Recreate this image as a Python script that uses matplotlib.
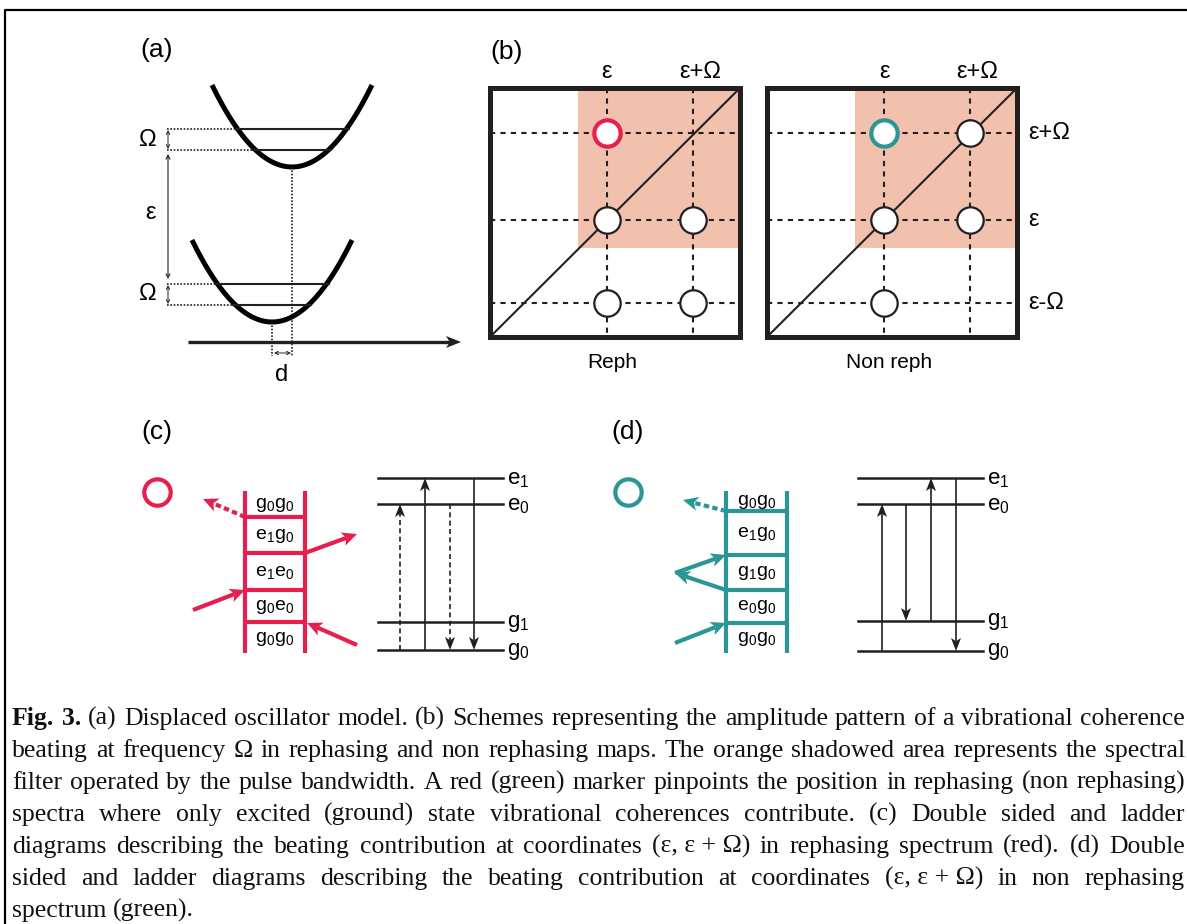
import numpy as np
import matplotlib.pyplot as plt

plt.rcParams['font.family'] = ['Liberation Sans', 'DejaVu Sans']
plt.rcParams['mathtext.fontset'] = 'custom'
plt.rcParams['mathtext.rm'] = 'Liberation Sans'
plt.rcParams['mathtext.it'] = 'Liberation Sans:italic'

INK = '#231f20'
RED = '#e61f4f'
TEAL = '#2a9696'
SHADE = '#f2c1ae'

# ---- (a) displaced oscillator model
well_vertex = [(292, 167), (272, 322)]      # excited, ground
well_halfwidth = 80
well_depth = 82
well_levels = [[129, 150], [284, 305]]

# ---- (b) 2D maps
top_labels = ['ε', 'ε+Ω']
right_labels = ['ε+Ω', 'ε', 'ε-Ω']
map_titles = ['Reph', 'Non reph']
# peaks as (column, row, colour); column 0 = ε, 1 = ε+Ω ; row 0 = ε+Ω, 1 = ε, 2 = ε-Ω
reph_peaks = [(0, 0, RED), (0, 1, 'w'), (1, 1, 'w'), (0, 2, 'w'), (1, 2, 'w')]
nonreph_peaks = [(0, 0, TEAL), (1, 0, 'w'), (0, 1, 'w'), (1, 1, 'w'), (0, 2, 'w')]

# ---- (c), (d) double sided / ladder diagrams
ladder_c = ['g$_0$g$_0$', 'e$_1$g$_0$', 'e$_1$e$_0$', 'g$_0$e$_0$', 'g$_0$g$_0$']
ladder_d = ['g$_0$g$_0$', 'e$_1$g$_0$', 'g$_1$g$_0$', 'e$_0$g$_0$', 'g$_0$g$_0$']
level_names = ['e', 'e', 'g', 'g']
level_index = ['1', '0', '1', '0']
# transitions: (from level, to level, dashed)   levels 0=e1, 1=e0, 2=g1, 3=g0
trans_c = [(3, 1, True), (3, 0, False), (1, 3, True), (0, 3, False)]
trans_d = [(3, 1, False), (1, 2, False), (2, 0, False), (0, 3, False)]

caption_lines = [
    'Fig. 3. (a) Displaced oscillator model. (b) Schemes representing the amplitude pattern of a vibrational coherence',
    'beating at frequency Ω in rephasing and non rephasing maps. The orange shadowed area represents the spectral',
    'filter operated by the pulse bandwidth. A red (green) marker pinpoints the position in rephasing (non rephasing)',
    'spectra where only excited (ground) state vibrational coherences contribute. (c) Double sided and ladder',
    'diagrams describing the beating contribution at coordinates (ε,~ε~+~Ω) in rephasing spectrum (red). (d) Double',
    'sided and ladder diagrams describing the beating contribution at coordinates (ε,~ε~+~Ω) in non rephasing',
    'spectrum (green).',
]


fig = plt.figure(figsize=(11.87, 9.24), dpi=100)
ax = fig.add_axes([0, 0, 1, 1])
ax.set_xlim(0, 1187)
ax.set_ylim(924, 0)
ax.axis('off')


def head(x0, y0, x1, y1, color, hl, hw):
    # filled stealth-like arrow head with tip at (x1, y1); returns notch point
    d = np.hypot(x1 - x0, y1 - y0)
    ux, uy = (x1 - x0) / d, (y1 - y0) / d
    px, py = -uy, ux
    bx, by = x1 - hl * ux, y1 - hl * uy
    nx, ny = x1 - 0.75 * hl * ux, y1 - 0.75 * hl * uy
    ax.fill([x1, bx + hw * px, nx, bx - hw * px], [y1, by + hw * py, ny, by - hw * py],
            color=color, lw=0, zorder=6)
    return nx, ny


def arrow(x0, y0, x1, y1, color=INK, lw=1.1, ls='-', hl=12, hw=5):
    nx, ny = head(x0, y0, x1, y1, color, hl, hw)
    ax.plot([x0, nx], [y0, ny], color=color, lw=lw, ls=ls, solid_capstyle='butt', zorder=5)


# outer frame
ax.plot([5, 5, 1190], [930, 10, 10], color='k', lw=1.6)

# ---------------- (a)
ax.text(157, 50, '(a)', fontsize=19, ha='center', va='center')
for (vx, vy), levels in zip(well_vertex, well_levels):
    xs = np.linspace(vx - well_halfwidth, vx + well_halfwidth, 200)
    ax.plot(xs, vy - well_depth * ((xs - vx) / well_halfwidth) ** 2, color='k', lw=3.6,
            solid_capstyle='butt')
    for lv in levels:
        dx = well_halfwidth * np.sqrt((vy - lv) / well_depth)
        ax.plot([vx - dx - 3, vx + dx + 3], [lv, lv], color=INK, lw=1.5)
        ax.plot([167, vx - dx], [lv, lv], color=INK, lw=1.2, ls=(0, (1, 1)))
    ax.plot([vx, vx], [vy, 356], color=INK, lw=1.2, ls=(0, (1, 1)))
    ax.text(148, np.mean(levels), 'Ω', fontsize=17, ha='center', va='center')
    ax.annotate('', xy=(168, levels[0] + 1), xytext=(168, levels[1] - 1),
                arrowprops=dict(arrowstyle='<->', lw=0.7, color=INK,
                                mutation_scale=6, shrinkA=0, shrinkB=0))

ax.annotate('', xy=(168, well_levels[0][1] + 4), xytext=(168, well_levels[1][0] - 5),
            arrowprops=dict(arrowstyle='<->', lw=0.8, color=INK, mutation_scale=7,
                            shrinkA=0, shrinkB=0))
ax.text(150, 213, 'ε', fontsize=17, ha='center', va='center')
arrow(188, 342, 461, 342, color=INK, lw=2.4, hl=15, hw=6)
ax.annotate('', xy=(274, 353), xytext=(291, 353),
            arrowprops=dict(arrowstyle='<->', lw=0.7, color=INK, mutation_scale=6,
                            shrinkA=0, shrinkB=0))
ax.text(282, 375, 'd', fontsize=17, ha='center', va='center')

# ---------------- (b)
ax.text(507, 52, '(b)', fontsize=19, ha='center', va='center')
box_left = [490, 767]
box_w, box_top, box_bot = 250, 88, 337
col_off = [117, 203]
row_y = [133, 220, 303]
shade_x, shade_bot = 88, 248
for k, (bl, peaks) in enumerate(zip(box_left, [reph_peaks, nonreph_peaks])):
    br = bl + box_w
    ax.fill([bl + shade_x, br, br, bl + shade_x], [box_top, box_top, shade_bot, shade_bot],
            color=SHADE, lw=0, zorder=1)
    for c in col_off:
        ax.plot([bl + c, bl + c], [box_top, box_bot], color=INK, lw=1.5, ls=(0, (2.5, 2.5)), zorder=2)
    for r in row_y:
        ax.plot([bl, br], [r, r], color=INK, lw=1.5, ls=(0, (2.5, 2.5)), zorder=2)
    ax.plot([bl, br], [box_bot, box_top], color=INK, lw=1.5, zorder=3)
    for c, r, colr in peaks:
        edge = INK if colr == 'w' else colr
        ax.plot(bl + col_off[c], row_y[r], 'o', ms=19, mfc='w', mec=edge,
                mew=1.6 if colr == 'w' else 3.0, zorder=4)
    ax.plot([bl, br, br, bl, bl], [box_top, box_top, box_bot, box_bot, box_top],
            color=INK, lw=3.6, solid_joinstyle='miter', zorder=5)
    for c, lab in zip(col_off, top_labels):
        ax.text(bl + c + (0 if lab == 'ε' else 7), 72, lab, fontsize=17, ha='center', va='center')
    ax.text(bl + 122, 362, map_titles[k], fontsize=15, ha='center', va='center')
for r, lab in zip(row_y, right_labels):
    ax.text(1028, r, lab, fontsize=17, ha='left', va='center')

# ---------------- (c) and (d)
panels = [
    dict(tag='(c)', x0=157, color=RED, lad=(245, 305), rungs=[491, 517, 553, 590, 622, 653],
         labels=ladder_c, levx=(378, 503), levy=[478, 504, 622, 650],
         arrx=[400, 425, 450, 474], trans=trans_c,
         photons=[((245, 517), (203, 499), True), ((305, 553), (357, 534), False),
                  ((193, 610), (245, 590), False), ((357, 645), (307, 623), False)]),
    dict(tag='(d)', x0=628, color=TEAL, lad=(726, 787), rungs=[491, 511, 555, 590, 623, 653],
         labels=ladder_d, levx=(858, 983), levy=[478, 504, 621, 651],
         arrx=[882, 906, 931, 956], trans=trans_d,
         photons=[((726, 511), (683, 500), True), ((675, 573), (726, 555), False),
                  ((726, 590), (675, 573), False), ((675, 643), (726, 623), False)]),
]
for p in panels:
    ax.text(p['x0'], 432, p['tag'], fontsize=19, ha='center', va='center')
    ax.plot(p['x0'], 492, 'o', ms=19, mfc='w', mec=p['color'], mew=3.0)
    xl, xr = p['lad']
    rg = p['rungs']
    for xv in (xl, xr):
        ax.plot([xv, xv], [rg[0], rg[-1]], color=p['color'], lw=3.0, solid_capstyle='butt')
    for yv in rg[1:-1]:
        ax.plot([xl, xr], [yv, yv], color=p['color'], lw=3.0, solid_capstyle='butt')
    for lab, ya, yb in zip(p['labels'], rg[:-1], rg[1:]):
        ax.text((xl + xr) / 2, (ya + yb) / 2 + 1, lab, fontsize=14, ha='center', va='center')
    for (sx, sy), (tx, ty), dashed in p['photons']:
        arrow(sx, sy, tx, ty, color=p['color'], lw=3.0, ls=(0, (1.3, 0.8)) if dashed else '-',
              hl=15, hw=7)
    lx0, lx1 = p['levx']
    for yv, nm, ix in zip(p['levy'], level_names, level_index):
        ax.plot([lx0, lx1], [yv, yv], color=INK, lw=1.8)
        ax.text(lx1 + 4, yv + 1, nm + '$_{' + ix + '}$', fontsize=16, ha='left', va='center')
    for xv, (a, b, dashed) in zip(p['arrx'], p['trans']):
        arrow(xv, p['levy'][a], xv, p['levy'][b], color=INK, lw=1.2,
              ls=(0, (3, 2)) if dashed else '-', hl=13, hw=5)

# ---------------- caption (justified)
renderer = fig.canvas.get_renderer()
cap_left, cap_right = 12, 1185
cap_base = [725, 757, 789, 821, 853, 885, 917]
# pick the font size so that the first line fills the width with normal spacing
probe = ax.text(0, 0, caption_lines[0], fontsize=16.5, family='Liberation Serif')
cap_size = 16.5 * (cap_right - cap_left) / probe.get_window_extent(renderer).width * 0.985
probe.remove()
for i, (line, yb) in enumerate(zip(caption_lines, cap_base)):
    words = line.split(' ')
    texts = []
    for j, w in enumerate(words):
        bold = i == 0 and j < 2
        texts.append(ax.text(0, yb, w.replace('~', ' '), fontsize=cap_size, family='Liberation Serif',
                             fontweight='bold' if bold else 'normal', color='#111111',
                             ha='left', va='baseline'))
    widths = [t.get_window_extent(renderer).width for t in texts]
    if i < len(caption_lines) - 1:
        gap = (cap_right - cap_left - sum(widths)) / (len(words) - 1)
    else:
        gap = 0.25 * cap_size * 100 / 72
    x = cap_left
    for t, w in zip(texts, widths):
        t.set_x(x)
        x += w + gap

fig.savefig('out.png', dpi=100)
